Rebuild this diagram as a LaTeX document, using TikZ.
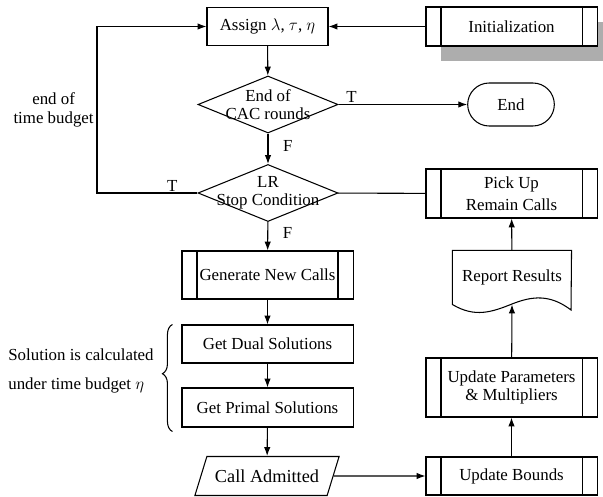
\documentclass[tikz,border=0pt]{standalone}
\usepackage{fontspec}
\setmainfont{Liberation Serif}
\usetikzlibrary{arrows.meta, calc, decorations.pathreplacing, shadows, shapes.geometric, shapes.misc}

\begin{document}
\begin{tikzpicture}[x=0.025cm, y=-0.025cm, line width=0.75pt,
  font=\fontsize{12}{13}\selectfont,
  arr/.style={-{Latex[length=2.2mm,width=1.6mm]}},
  proc/.style={draw, minimum height=0.95cm, align=center},
  subproc/.style={proc, minimum width=4.275cm,
    path picture={\draw ([xshift=0.375cm]path picture bounding box.north west) -- ([xshift=0.375cm]path picture bounding box.south west)
      ([xshift=-0.375cm]path picture bounding box.north east) -- ([xshift=-0.375cm]path picture bounding box.south east);}},
  decision/.style={draw, diamond, minimum width=3.5cm, minimum height=1.425cm, inner sep=0pt},
  terminal/.style={draw, rounded rectangle, minimum width=2.4cm, minimum height=1.075cm},
  io/.style={draw, trapezium, trapezium left angle=65, trapezium right angle=115, trapezium stretches=true,
    inner xsep=0pt, minimum width=3.625cm, minimum height=0.975cm, font=\fontsize{13}{14}\selectfont},
  docu/.style={minimum width=2.95cm, minimum height=1.325cm}]
\useasboundingbox (0,0) rectangle (603,497);
% Left column: assign, the two tests, the solver steps
\node[proc, minimum width=3.025cm] (assign) at (267.5,26.5) {Assign $\lambda$, $\tau$, $\eta$};
\node[decision, label={[align=center]center:{End of\\CAC rounds}}] (d1) at (268,104.5) {};
\node[decision, label={[align=center]center:{LR\\Stop Condition}}] (d2) at (268,193) {};
\node[subproc, minimum height=1.2cm] (gen) at (267.5,275) {Generate New Calls};
\node[proc, minimum width=4.275cm] (dual) at (267.5,344) {Get Dual Solutions};
\node[proc, minimum width=4.275cm, minimum height=0.975cm] (primal) at (267.5,407.5) {Get Primal Solutions};
\node[io] (call) at (267,476) {Call Admitted};
% Right column
\node[subproc, minimum height=0.975cm, fill=white,
  drop shadow={shadow xshift=0.375cm, shadow yshift=-0.375cm, fill=black!32, opacity=1}] (init) at (511.5,26.5) {Initialization};
\node[terminal] (end) at (511,104.5) {End};
\node[subproc, minimum height=1.225cm, font=\fontsize{12}{15.5}\selectfont] (pick) at (511.5,193.5) {Pick Up\\Remain Calls};
\node[docu] (report) at (512,277.5) {Report Results};
\node[subproc, minimum height=1.475cm] (params) at (511.5,387.5) {Update Parameters\\\& Multipliers};
\node[subproc] (bounds) at (511.5,476) {Update Bounds};
% Wavy bottom of the report
\draw (report.north west) -- (report.north east) -- (571,310)
  .. controls (550,294) and (532,296) .. (512,304)
  .. controls (492,312) and (475,318) .. (report.south west) -- cycle;
% Main flow
\draw[arr] (init) -- (assign);
\draw[arr] (assign) -- (d1);
\draw[arr] (d1) -- node[pos=.1, above, inner sep=1pt] {T} (end);
\draw[arr] (d1) -- node[pos=.4, right=0.25cm] {F} (d2);
\draw[arr] (d2) -- node[pos=.4, right=0.25cm] {F} (gen);
\draw[arr] (gen) -- (dual);
\draw[arr] (dual) -- (primal);
\draw[arr] (primal) -- (call);
% Loop back when the time budget ends
\coordinate (loop) at (97,193);
\draw[arr] (d2) -- node[pos=.25, above, inner sep=1pt] {T} (loop)
  |- node[pos=.25, left, align=center, inner sep=2pt, font=\fontsize{12}{14}\selectfont] {end of\\time budget} (assign);
% Right column flow
\draw (d2) -- (pick);
\draw[arr] (call) -- (bounds);
\draw[arr] (bounds) -- (params);
\draw[arr] (params) -- (report.south);
\draw[arr] (report) -- (pick);
% Brace over the two solver steps
\draw[decorate, decoration={brace, amplitude=0.25cm, aspect=0.54}]
  ($(primal.south west)+(-9,4)$) -- ($(dual.north west)+(-9,0)$);
\node[align=left, font=\fontsize{12}{20}\selectfont] (note) at (81,371) {Solution is calculated\\under time budget $\eta$};
\end{tikzpicture}
\end{document}
